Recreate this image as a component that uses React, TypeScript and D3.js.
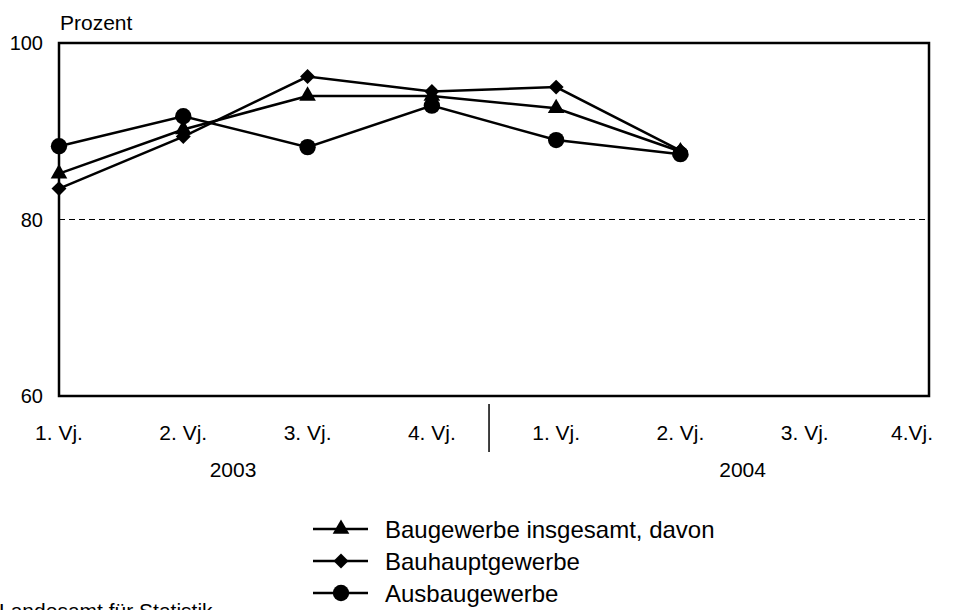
import React, { useEffect, useRef } from "react";
import * as d3 from "d3";

const quarters = ["1. Vj.", "2. Vj.", "3. Vj.", "4. Vj.", "1. Vj.", "2. Vj.", "3. Vj.", "4.Vj."];
const years = ["2003", "2004"];
const yearPos = [1.4, 5.5]; // position of the year label on the quarter index axis
const yTicks = [60, 80, 100];

const baugewerbe = [85.2, 90.2, 94.0, 94.0, 92.6, 87.7];
const bauhaupt = [83.5, 89.4, 96.2, 94.5, 95.0, 87.8];
const ausbau = [88.3, 91.7, 88.2, 92.9, 89.0, 87.4];

const seriesNames = ["Baugewerbe insgesamt, davon", "Bauhauptgewerbe", "Ausbaugewerbe"];

const App = () => {
  const ref = useRef<SVGSVGElement>(null);

  useEffect(() => {
    const svg = d3.select(ref.current);
    svg.selectAll("*").remove();

    const font = "'Liberation Sans', Arial, sans-serif";
    const left = 59, right = 929, top = 43, bottom = 396;

    const x = d3.scaleLinear().domain([0, 7]).range([left, right]);
    const y = d3.scaleLinear().domain([60, 100]).range([bottom, top]);

    // marker shapes: triangle, diamond (rotated square), circle
    const markers = [
      d3.symbol().type(d3.symbolTriangle).size(120)(),
      d3.symbol().type(d3.symbolSquare).size(112)(),
      d3.symbol().type(d3.symbolCircle).size(210)(),
    ];
    const rot = [0, 45, 0];

    // dashed 80 line
    svg.append("line")
      .attr("x1", left).attr("x2", right)
      .attr("y1", y(80)).attr("y2", y(80))
      .attr("stroke", "#000").attr("stroke-width", 1)
      .attr("stroke-dasharray", "6,4");

    // frame
    svg.append("rect")
      .attr("x", left).attr("y", top)
      .attr("width", right - left).attr("height", bottom - top)
      .attr("fill", "none").attr("stroke", "#000").attr("stroke-width", 2.5);

    // y tick labels
    svg.selectAll(".ytick").data(yTicks).enter().append("text")
      .attr("x", 43).attr("y", d => y(d) + 7)
      .attr("text-anchor", "end")
      .attr("font-family", font).attr("font-size", 20)
      .text(d => d);

    svg.append("text")
      .attr("x", 60).attr("y", 30)
      .attr("font-family", font).attr("font-size", 21)
      .text("Prozent");

    // x labels
    svg.selectAll(".xtick").data(quarters).enter().append("text")
      .attr("x", (d, i) => (i === quarters.length - 1 ? x(i) - 17 : x(i)))
      .attr("y", 440)
      .attr("text-anchor", "middle")
      .attr("font-family", font).attr("font-size", 21)
      .text(d => d);

    svg.append("line")
      .attr("x1", x(3.46)).attr("x2", x(3.46))
      .attr("y1", 404).attr("y2", 452)
      .attr("stroke", "#000").attr("stroke-width", 1.5);

    svg.selectAll(".year").data(years).enter().append("text")
      .attr("x", (d, i) => x(yearPos[i]))
      .attr("y", 477)
      .attr("text-anchor", "middle")
      .attr("font-family", font).attr("font-size", 21)
      .text(d => d);

    const line = d3.line<number>()
      .x((d, i) => x(i))
      .y(d => y(d));

    const allSeries = [baugewerbe, bauhaupt, ausbau];
    allSeries.forEach((s, k) => {
      svg.append("path")
        .datum(s)
        .attr("fill", "none")
        .attr("stroke", "#000")
        .attr("stroke-width", 2.5)
        .attr("d", line);
      svg.selectAll(".m" + k).data(s).enter().append("path")
        .attr("transform", (d, i) => `translate(${x(i)},${y(d)}) rotate(${rot[k]})`)
        .attr("d", markers[k])
        .attr("fill", "#000");
    });

    // legend
    seriesNames.forEach((name, k) => {
      const ly = 529 + k * 32;
      svg.append("line")
        .attr("x1", 313).attr("x2", 368)
        .attr("y1", ly).attr("y2", ly)
        .attr("stroke", "#000").attr("stroke-width", 2.5);
      svg.append("path")
        .attr("transform", `translate(341,${ly}) rotate(${rot[k]})`)
        .attr("d", markers[k])
        .attr("fill", "#000");
      svg.append("text")
        .attr("x", 385).attr("y", ly + 8.5)
        .attr("font-family", font).attr("font-size", 24)
        .text(name);
    });

    svg.append("text")
      .attr("x", -1).attr("y", 618)
      .attr("font-family", font).attr("font-size", 21)
      .text("Landesamt für Statistik");
  }, []);

  return (
    <svg ref={ref} width={955} height={610}
      style={{ position: "absolute", left: 0, top: 0, background: "#fff" }} />
  );
};

export default App;
